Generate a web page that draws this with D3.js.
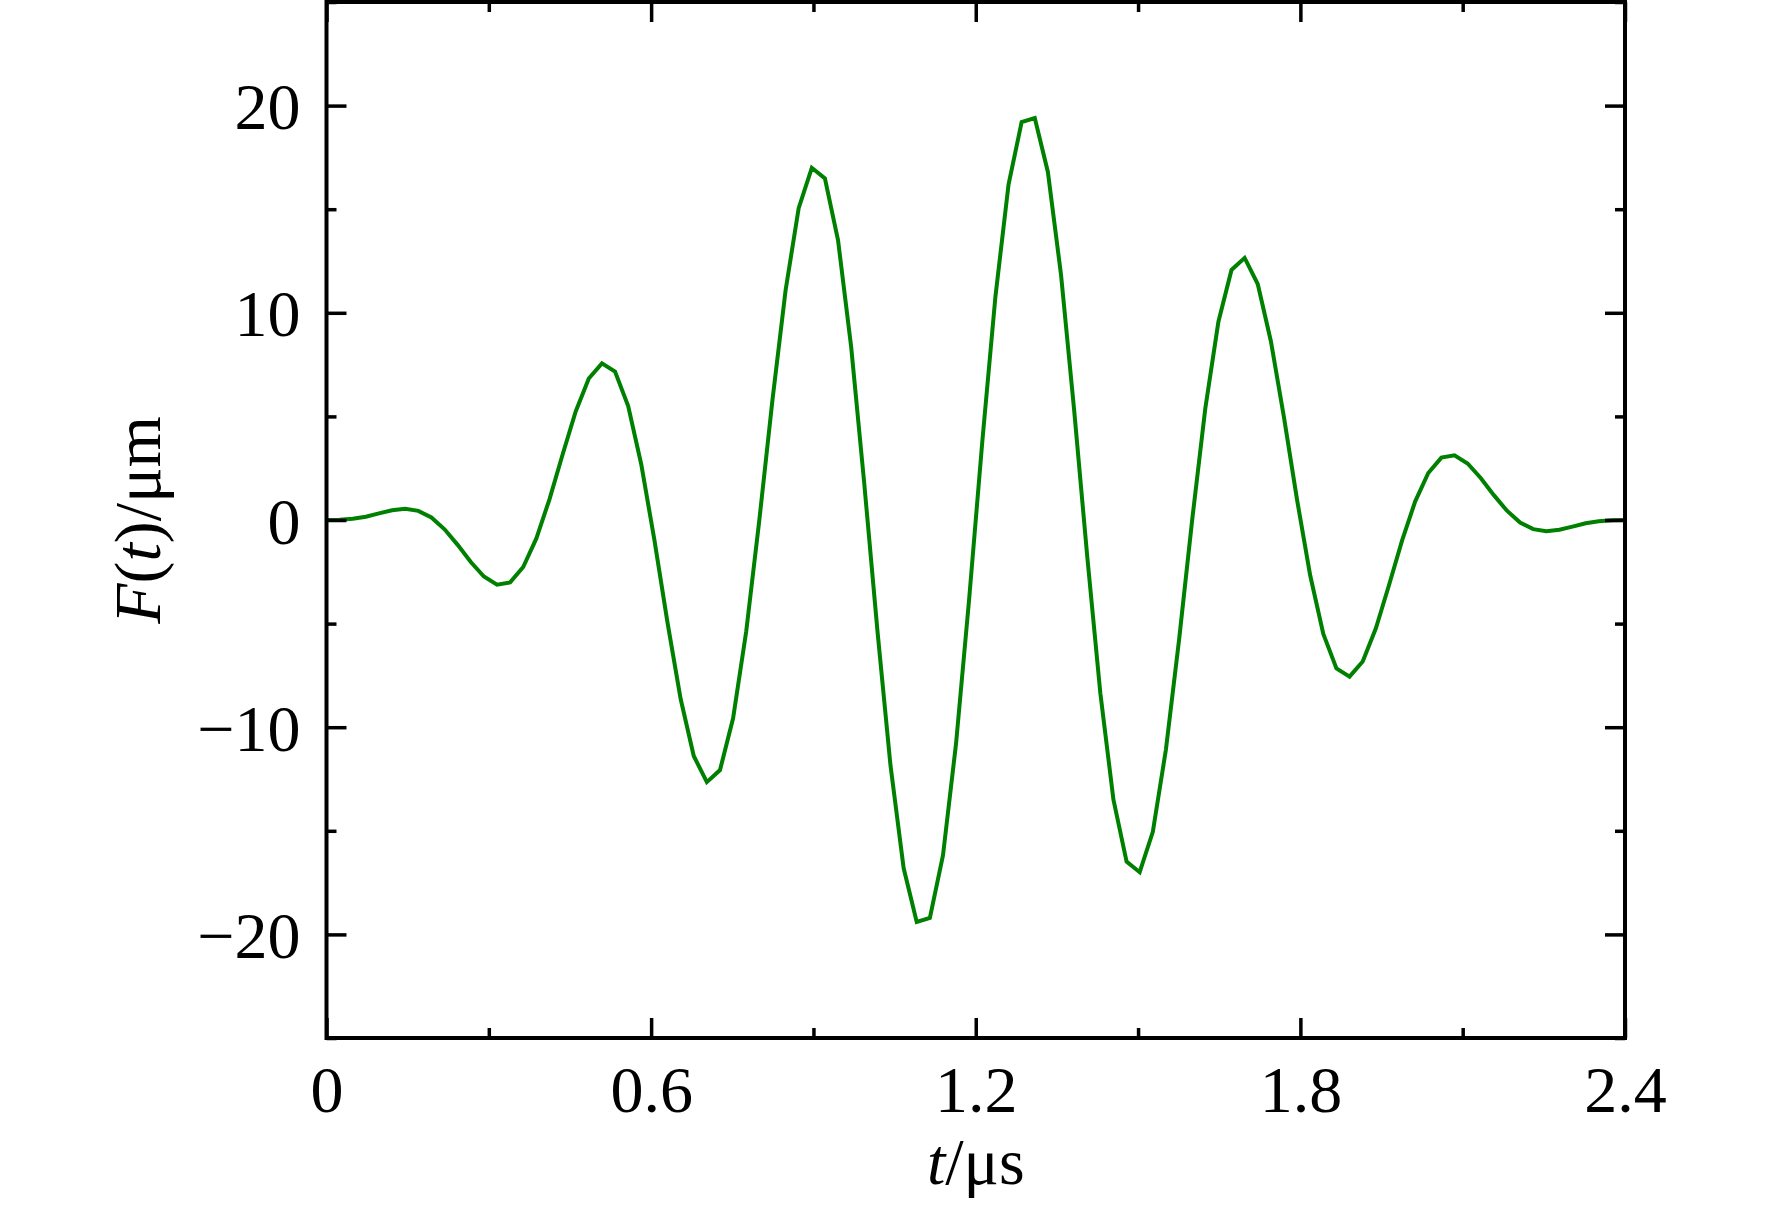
<!DOCTYPE html>
<html>
<head>
<meta charset="utf-8">
<script src="https://cdn.jsdelivr.net/npm/d3@7"></script>
<style>
  html, body { margin: 0; padding: 0; background: #fff; }
  svg { display: block; }
  text { font-family: "Liberation Serif", "Times New Roman", serif; fill: #000; }
</style>
</head>
<body>
<svg id="chart" width="1772" height="1207"></svg>
<script>
// ---- data ----
const timeUs = [
  0.0000, 0.0242, 0.0485, 0.0727, 0.0970, 0.1212, 0.1455, 0.1697, 0.1939, 0.2182,
  0.2424, 0.2667, 0.2909, 0.3152, 0.3394, 0.3636, 0.3879, 0.4121, 0.4364, 0.4606,
  0.4848, 0.5091, 0.5333, 0.5576, 0.5818, 0.6061, 0.6303, 0.6545, 0.6788, 0.7030,
  0.7273, 0.7515, 0.7758, 0.8000, 0.8242, 0.8485, 0.8727, 0.8970, 0.9212, 0.9455,
  0.9697, 0.9939, 1.0182, 1.0424, 1.0667, 1.0909, 1.1152, 1.1394, 1.1636, 1.1879,
  1.2121, 1.2364, 1.2606, 1.2848, 1.3091, 1.3333, 1.3576, 1.3818, 1.4061, 1.4303,
  1.4545, 1.4788, 1.5030, 1.5273, 1.5515, 1.5758, 1.6000, 1.6242, 1.6485, 1.6727,
  1.6970, 1.7212, 1.7455, 1.7697, 1.7939, 1.8182, 1.8424, 1.8667, 1.8909, 1.9152,
  1.9394, 1.9636, 1.9879, 2.0121, 2.0364, 2.0606, 2.0848, 2.1091, 2.1333, 2.1576,
  2.1818, 2.2061, 2.2303, 2.2545, 2.2788, 2.3030, 2.3273, 2.3515, 2.3758, 2.4000
];
const forceUm = [
  0.00, 0.01, 0.06, 0.16, 0.32, 0.47, 0.54, 0.44, 0.12, -0.45,
  -1.20, -2.03, -2.73, -3.12, -3.01, -2.27, -0.89, 1.00, 3.16, 5.24,
  6.83, 7.56, 7.16, 5.50, 2.68, -0.97, -4.95, -8.63, -11.39, -12.65,
  -12.07, -9.57, -5.37, 0.00, 5.78, 11.08, 15.05, 17.00, 16.49, 13.50,
  8.36, 1.77, -5.32, -11.84, -16.80, -19.40, -19.20, -16.19, -10.79, -3.78,
  3.78, 10.79, 16.19, 19.20, 19.40, 16.80, 11.84, 5.32, -1.77, -8.36,
  -13.50, -16.49, -17.00, -15.05, -11.08, -5.78, 0.00, 5.37, 9.57, 12.07,
  12.65, 11.39, 8.63, 4.95, 0.97, -2.68, -5.50, -7.16, -7.56, -6.83,
  -5.24, -3.16, -1.00, 0.89, 2.27, 3.01, 3.12, 2.73, 2.03, 1.20,
  0.45, -0.12, -0.44, -0.54, -0.47, -0.32, -0.16, -0.06, -0.01, 0.00
];
const xDomain = [0, 2.4];
const yDomain = [-25, 25];
const xMajorTicks = [0, 0.6, 1.2, 1.8, 2.4];
const xMajorLabels = ["0", "0.6", "1.2", "1.8", "2.4"];
const xMinorTicks = [0.3, 0.9, 1.5, 2.1];
const yMajorTicks = [-20, -10, 0, 10, 20];
const yMajorLabels = ["\u221220", "\u221210", "0", "10", "20"];
const yMinorTicks = [-25, -15, -5, 5, 15, 25];

// ---- layout ----
const svg = d3.select("#chart");
const L = 326.5, R = 1625, T = 2, B = 1038;
const x = d3.scaleLinear().domain(xDomain).range([L, R]);
const y = d3.scaleLinear().domain(yDomain).range([B, T]);
const FS = 66;

// curve
const line = d3.line().x((d, i) => x(timeUs[i])).y(d => y(d));
svg.append("path")
  .datum(forceUm)
  .attr("d", line)
  .attr("fill", "none")
  .attr("stroke", "#008000")
  .attr("stroke-width", 4)
  .attr("stroke-linejoin", "miter");

function styleAxis(g) {
  g.select(".domain").remove();
  g.selectAll(".tick line").attr("stroke", "#000").attr("stroke-width", 3.5);
}

// bottom axis (major with labels)
const gxb = svg.append("g").attr("transform", `translate(0,${B})`)
  .call(d3.axisBottom(x).tickValues(xMajorTicks).tickSize(-20)
    .tickFormat((d, i) => xMajorLabels[i]));
styleAxis(gxb);
gxb.selectAll(".tick text")
  .attr("y", 74).attr("dy", null)
  .attr("font-size", FS)
  .attr("font-family", "Liberation Serif, Times New Roman, serif")
  .attr("fill", "#000");
svg.append("g").attr("transform", `translate(0,${B})`)
  .call(d3.axisBottom(x).tickValues(xMinorTicks).tickSize(-10).tickFormat(""))
  .call(styleAxis);

// top axis
svg.append("g").attr("transform", `translate(0,${T})`)
  .call(d3.axisTop(x).tickValues(xMajorTicks).tickSize(-20).tickFormat(""))
  .call(styleAxis);
svg.append("g").attr("transform", `translate(0,${T})`)
  .call(d3.axisTop(x).tickValues(xMinorTicks).tickSize(-10).tickFormat(""))
  .call(styleAxis);

// left axis
const gyl = svg.append("g").attr("transform", `translate(${L},0)`)
  .call(d3.axisLeft(y).tickValues(yMajorTicks).tickSize(-20)
    .tickFormat((d, i) => yMajorLabels[i]));
styleAxis(gyl);
gyl.selectAll(".tick text")
  .attr("x", -26).attr("dy", null).attr("y", 23)
  .attr("text-anchor", "end")
  .attr("font-size", FS)
  .attr("font-family", "Liberation Serif, Times New Roman, serif")
  .attr("fill", "#000");
svg.append("g").attr("transform", `translate(${L},0)`)
  .call(d3.axisLeft(y).tickValues(yMinorTicks).tickSize(-10).tickFormat(""))
  .call(styleAxis);

// right axis
svg.append("g").attr("transform", `translate(${R},0)`)
  .call(d3.axisRight(y).tickValues(yMajorTicks).tickSize(-20).tickFormat(""))
  .call(styleAxis);
svg.append("g").attr("transform", `translate(${R},0)`)
  .call(d3.axisRight(y).tickValues(yMinorTicks).tickSize(-10).tickFormat(""))
  .call(styleAxis);

// frame
svg.append("rect")
  .attr("x", L).attr("y", T)
  .attr("width", R - L).attr("height", B - T)
  .attr("fill", "none").attr("stroke", "#000").attr("stroke-width", 4);

// axis titles
const xt = svg.append("text")
  .attr("x", (L + R) / 2).attr("y", 1184)
  .attr("text-anchor", "middle")
  .attr("font-size", FS);
xt.append("tspan").attr("font-style", "italic").text("t");
xt.append("tspan").text("/\u03bcs");

const yt = svg.append("text")
  .attr("transform", `translate(160,${(T + B) / 2}) rotate(-90)`)
  .attr("text-anchor", "middle")
  .attr("font-size", FS);
yt.append("tspan").attr("font-style", "italic").text("F");
yt.append("tspan").text("(");
yt.append("tspan").attr("font-style", "italic").text("t");
yt.append("tspan").text(")/\u03bcm");
</script>
</body>
</html>
